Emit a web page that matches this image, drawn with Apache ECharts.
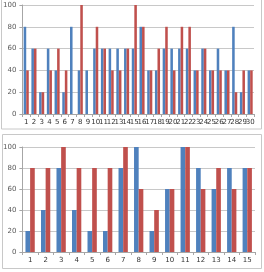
<!DOCTYPE html>
<html>
<head>
<meta charset="utf-8">
<script src="https://cdn.jsdelivr.net/npm/echarts@6/dist/echarts.min.js"></script>
<style>
  html, body { margin: 0; padding: 0; background: #fff; }
  #main { width: 264px; height: 272px; }
</style>
</head>
<body>
<div id="main"></div>
<script>
// 上图数据（30组）
var topCats = [];
for (var i = 1; i <= 30; i++) topCats.push(String(i));
var topBlue = [80, 60, 20, 60, 40, 20, 80, 40, 40, 60, 60, 60, 60, 60, 60,
               80, 40, 40, 60, 60, 60, 60, 40, 60, 40, 60, 40, 80, 20, 40];
var topRed  = [40, 60, 20, 40, 60, 40, 0, 100, 0, 80, 60, 40, 40, 60, 100,
               80, 40, 60, 80, 40, 80, 80, 40, 60, 40, 40, 40, 20, 40, 40];

// 下图数据（15组）
var botCats = ['1', '2', '3', '4', '5', '6', '7', '8', '9', '10', '11', '12', '13', '14', '15'];
var botBlue = [20, 40, 80, 40, 20, 20, 80, 100, 20, 60, 100, 80, 60, 80, 80];
var botRed  = [80, 80, 100, 80, 80, 80, 100, 60, 40, 60, 100, 60, 80, 60, 80];

var yTicks = [0, 20, 40, 60, 80, 100];

var BLUE = '#4F81BD';
var RED = '#C0504D';

var myChart = echarts.init(document.getElementById('main'));

function yAxisOf(idx) {
  return {
    gridIndex: idx,
    type: 'value',
    min: yTicks[0],
    max: yTicks[yTicks.length - 1],
    interval: 20,
    axisLine: { show: true, lineStyle: { color: '#a6a6a6' } },
    axisTick: { show: true, length: 3, lineStyle: { color: '#a6a6a6' } },
    axisLabel: { fontSize: 7, color: '#595959', margin: 6, fontFamily: 'DejaVu Sans' },
    splitLine: { lineStyle: { color: '#c8c8c8', width: 1 } }
  };
}

function xAxisOf(idx, cats) {
  return {
    gridIndex: idx,
    type: 'category',
    data: cats,
    axisLine: { lineStyle: { color: '#a6a6a6' } },
    axisTick: { show: true, length: 3, lineStyle: { color: '#a6a6a6' } },
    axisLabel: { interval: 0, fontSize: 7, color: '#333', margin: 5, fontFamily: 'DejaVu Sans' }
  };
}

var option = {
  animation: false,
  backgroundColor: '#fff',
  graphic: [
    { type: 'rect', shape: { x: 1.5, y: -2, width: 260, height: 131 },
      style: { fill: 'none', stroke: '#c8c8c8', lineWidth: 1 }, silent: true },
    { type: 'rect', shape: { x: 2.5, y: 134.5, width: 259, height: 134 },
      style: { fill: 'none', stroke: '#c8c8c8', lineWidth: 1 }, silent: true }
  ],
  grid: [
    { left: 22, top: 5, right: 10, height: 109 },
    { left: 22, top: 147, right: 9, height: 105 }
  ],
  xAxis: [xAxisOf(0, topCats), xAxisOf(1, botCats)],
  yAxis: [yAxisOf(0), yAxisOf(1)],
  series: [
    { type: 'bar', xAxisIndex: 0, yAxisIndex: 0, data: topBlue,
      itemStyle: { color: BLUE }, barGap: '0%', barCategoryGap: '34%' },
    { type: 'bar', xAxisIndex: 0, yAxisIndex: 0, data: topRed,
      itemStyle: { color: RED }, barGap: '0%', barCategoryGap: '34%' },
    { type: 'bar', xAxisIndex: 1, yAxisIndex: 1, data: botBlue,
      itemStyle: { color: BLUE }, barGap: '0%', barCategoryGap: '40%' },
    { type: 'bar', xAxisIndex: 1, yAxisIndex: 1, data: botRed,
      itemStyle: { color: RED }, barGap: '0%', barCategoryGap: '40%' }
  ]
};
myChart.setOption(option);
</script>
</body>
</html>
